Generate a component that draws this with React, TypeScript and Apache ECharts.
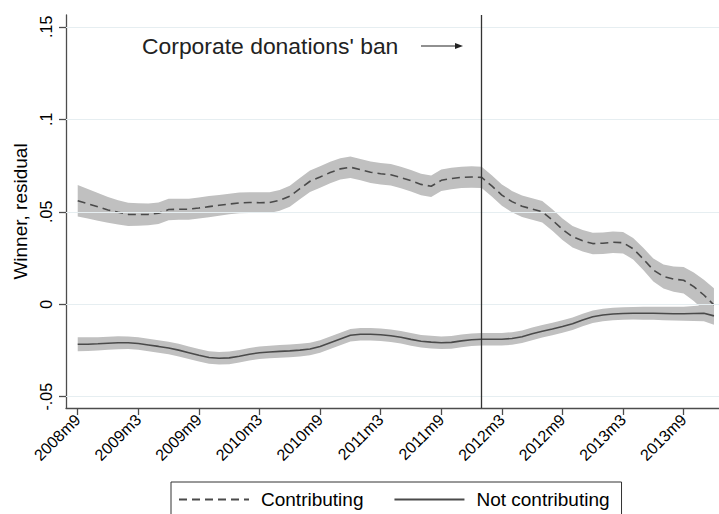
import React, { useEffect, useRef } from "react";
import * as echarts from "echarts";

const months = [
  "2008m9","2008m10","2008m11","2008m12","2009m1","2009m2","2009m3","2009m4","2009m5","2009m6","2009m7","2009m8",
  "2009m9","2009m10","2009m11","2009m12","2010m1","2010m2","2010m3","2010m4","2010m5","2010m6","2010m7","2010m8",
  "2010m9","2010m10","2010m11","2010m12","2011m1","2011m2","2011m3","2011m4","2011m5","2011m6","2011m7","2011m8",
  "2011m9","2011m10","2011m11","2011m12","2012m1","2012m2","2012m3","2012m4","2012m5","2012m6","2012m7","2012m8",
  "2012m9","2012m10","2012m11","2012m12","2013m1","2013m2","2013m3","2013m4","2013m5","2013m6","2013m7","2013m8",
  "2013m9","2013m10","2013m11","2013m12",
];

const contributing = [
  0.0560, 0.0543, 0.0527, 0.0510, 0.0497, 0.0486, 0.0485, 0.0486, 0.0492, 0.0512, 0.0514, 0.0514,
  0.0520, 0.0528, 0.0535, 0.0542, 0.0548, 0.0550, 0.0549, 0.0550, 0.0562, 0.0584, 0.0625, 0.0665,
  0.0688, 0.0712, 0.0732, 0.0741, 0.0728, 0.0714, 0.0706, 0.0700, 0.0685, 0.0668, 0.0648, 0.0638,
  0.0670, 0.0680, 0.0686, 0.0688, 0.0686, 0.0640, 0.0590, 0.0555, 0.0530, 0.0515, 0.0500, 0.0455,
  0.0405, 0.0365, 0.0343, 0.0328, 0.0330, 0.0335, 0.0333, 0.0300, 0.0245, 0.0185, 0.0150, 0.0136,
  0.0130, 0.0095, 0.0050, -0.0004,
];

const contributingCI = [
  0.0085, 0.0080, 0.0075, 0.0070, 0.0066, 0.0063, 0.0061, 0.0059, 0.0058, 0.0058, 0.0057, 0.0057,
  0.0057, 0.0057, 0.0056, 0.0056, 0.0056, 0.0056, 0.0056, 0.0056, 0.0056, 0.0057, 0.0057, 0.0058,
  0.0058, 0.0058, 0.0058, 0.0058, 0.0058, 0.0058, 0.0058, 0.0058, 0.0058, 0.0058, 0.0058, 0.0058,
  0.0058, 0.0058, 0.0058, 0.0058, 0.0058, 0.0058, 0.0058, 0.0058, 0.0058, 0.0058, 0.0058, 0.0058,
  0.0058, 0.0058, 0.0058, 0.0058, 0.0058, 0.0058, 0.0058, 0.0058, 0.0060, 0.0062, 0.0065, 0.0068,
  0.0072, 0.0077, 0.0083, 0.0090,
];

const notContributing = [
  -0.0216, -0.0216, -0.0214, -0.0211, -0.0208, -0.0208, -0.0212, -0.0220, -0.0228, -0.0237, -0.0248, -0.0262,
  -0.0276, -0.0288, -0.0292, -0.0290, -0.0281, -0.0270, -0.0262, -0.0258, -0.0255, -0.0252, -0.0248, -0.0242,
  -0.0228, -0.0208, -0.0188, -0.0168, -0.0162, -0.0162, -0.0165, -0.0170, -0.0178, -0.0190, -0.0200, -0.0205,
  -0.0208, -0.0206, -0.0198, -0.0192, -0.0189, -0.0189, -0.0189, -0.0185, -0.0176, -0.0160, -0.0146, -0.0134,
  -0.0120, -0.0105, -0.0085, -0.0068, -0.0058, -0.0053, -0.0050, -0.0049, -0.0049, -0.0049, -0.0050, -0.0051,
  -0.0051, -0.0050, -0.0049, -0.0063,
];

const notContributingCI = [
  0.0038, 0.0037, 0.0036, 0.0035, 0.0035, 0.0034, 0.0034, 0.0034, 0.0034, 0.0034, 0.0034, 0.0034,
  0.0034, 0.0034, 0.0034, 0.0034, 0.0034, 0.0034, 0.0034, 0.0034, 0.0034, 0.0034, 0.0034, 0.0034,
  0.0034, 0.0034, 0.0034, 0.0034, 0.0034, 0.0034, 0.0034, 0.0034, 0.0034, 0.0034, 0.0034, 0.0034,
  0.0034, 0.0034, 0.0034, 0.0034, 0.0034, 0.0034, 0.0034, 0.0034, 0.0034, 0.0034, 0.0034, 0.0034,
  0.0034, 0.0034, 0.0034, 0.0034, 0.0034, 0.0034, 0.0034, 0.0034, 0.0035, 0.0035, 0.0036, 0.0037,
  0.0038, 0.0040, 0.0043, 0.0048,
];

const xTickValues = [0, 6, 12, 18, 24, 30, 36, 42, 48, 54, 60];
const yTickValues = [-0.05, 0, 0.05, 0.1, 0.15];
const yTickLabels = ["-.05", "0", ".05", ".1", ".15"];
const banMonth = "2012m1";

const FONT = "Liberation Sans, Arial, sans-serif";
const LINE_COLOR = "#4a4a4a";
const BAND_COLOR = "#c0c0c0";
const AXIS_COLOR = "#4d4d4d";

function bandSeries(center: number[], hw: number[], z: number) {
  return {
    type: "custom",
    silent: true,
    z,
    data: [[0, center[0]]],
    encode: { x: 0, y: 1 },
    renderItem: (params: any, api: any) => {
      if (params.dataIndex !== 0) return null;
      const top = center.map((c, i) => api.coord([i, c + hw[i]]));
      const bot = center.map((c, i) => api.coord([i, c - hw[i]])).reverse();
      return {
        type: "polygon",
        shape: { points: top.concat(bot) },
        style: { fill: BAND_COLOR, stroke: "none" },
      };
    },
  };
}

export default function App() {
  const ref = useRef<HTMLDivElement>(null);
  useEffect(() => {
    if (!ref.current) return;
    const chart = echarts.init(ref.current, null, { renderer: "svg" });
    const option: any = {
      animation: false,
      backgroundColor: "#ffffff",
      textStyle: { fontFamily: FONT },
      grid: { left: 66, right: 0, top: 15, bottom: 106, containLabel: false },
      xAxis: {
        type: "value",
        min: -1.16,
        max: 63.5,
        axisLine: { show: true, onZero: false, lineStyle: { color: AXIS_COLOR, width: 1.3 } },
        axisTick: { show: true, customValues: xTickValues, length: 7, lineStyle: { color: AXIS_COLOR, width: 1.3 } },
        axisLabel: {
          customValues: xTickValues,
          rotate: 45,
          margin: 9,
          fontSize: 16,
          color: "#000",
          fontFamily: FONT,
          formatter: (v: number) => months[Math.round(v)] ?? "",
        },
        splitLine: { show: false },
      },
      yAxis: {
        type: "value",
        min: -0.0561,
        max: 0.1564,
        name: "Winner, residual",
        nameLocation: "middle",
        nameRotate: 90,
        nameGap: 36,
        nameTextStyle: { fontSize: 19, color: "#000", fontFamily: FONT },
        axisLine: { show: true, onZero: false, lineStyle: { color: AXIS_COLOR, width: 1.3 } },
        axisTick: { show: true, customValues: yTickValues, length: 7, lineStyle: { color: AXIS_COLOR, width: 1.3 } },
        axisLabel: {
          customValues: yTickValues,
          rotate: 90,
          margin: 12,
          fontSize: 16,
          color: "#000",
          fontFamily: FONT,
          formatter: (v: number) => {
            const idx = yTickValues.findIndex((t) => Math.abs(t - v) < 1e-9);
            return idx >= 0 ? yTickLabels[idx] : "";
          },
        },
        splitLine: { show: false },
      },
      legend: {
        left: 171,
        top: 482,
        orient: "horizontal",
        data: ["Contributing", "Not contributing"],
        itemWidth: 70,
        itemHeight: 14,
        itemGap: 30,
        borderColor: "#333",
        borderWidth: 1,
        padding: [8, 12, 8, 7],
        itemStyle: { color: "rgba(0,0,0,0)", borderWidth: 0, opacity: 0 },
        textStyle: { fontSize: 19, color: "#000", fontFamily: FONT, padding: [0, 0, 0, 7] },
      },
      series: [
        {
          type: "line",
          name: "grid",
          data: [],
          z: 1,
          silent: true,
          markLine: {
            silent: true,
            symbol: "none",
            label: { show: false },
            lineStyle: { color: "#e6eef1", width: 1, type: "solid" },
            data: yTickValues.map((v) => ({ yAxis: v })),
          },
        },
        bandSeries(contributing, contributingCI, 2),
        bandSeries(notContributing, notContributingCI, 2),
        {
          type: "line",
          name: "Contributing",
          z: 3,
          symbol: "none",
          data: contributing.map((v, i) => [i, v]),
          lineStyle: { color: LINE_COLOR, width: 1.6, type: [8, 5] },
          itemStyle: { color: LINE_COLOR },
          markLine: {
            silent: true,
            symbol: "none",
            label: { show: false },
            lineStyle: { color: "#333", width: 1.3, type: "solid" },
            data: [{ xAxis: months.indexOf(banMonth) }],
          },
        },
        {
          type: "line",
          name: "Not contributing",
          z: 3,
          symbol: "none",
          data: notContributing.map((v, i) => [i, v]),
          lineStyle: { color: LINE_COLOR, width: 1.6, type: "solid" },
          itemStyle: { color: LINE_COLOR },
        },
      ],
      graphic: [
        {
          type: "text",
          left: 142,
          top: 34,
          style: { text: "Corporate donations' ban", fontSize: 22.9, fill: "#222", fontFamily: FONT },
        },
        {
          type: "line",
          shape: { x1: 421, y1: 46, x2: 458, y2: 46 },
          style: { stroke: "#222", lineWidth: 1.2 },
        },
        {
          type: "polygon",
          shape: { points: [[463, 46], [455, 43], [455, 49]] },
          style: { fill: "#222" },
        },
      ],
    };
    chart.setOption(option);
    return () => chart.dispose();
  }, []);
  return (
    <div
      ref={ref}
      style={{ position: "absolute", left: 0, top: 0, width: 719, height: 514 }}
    />
  );
}
